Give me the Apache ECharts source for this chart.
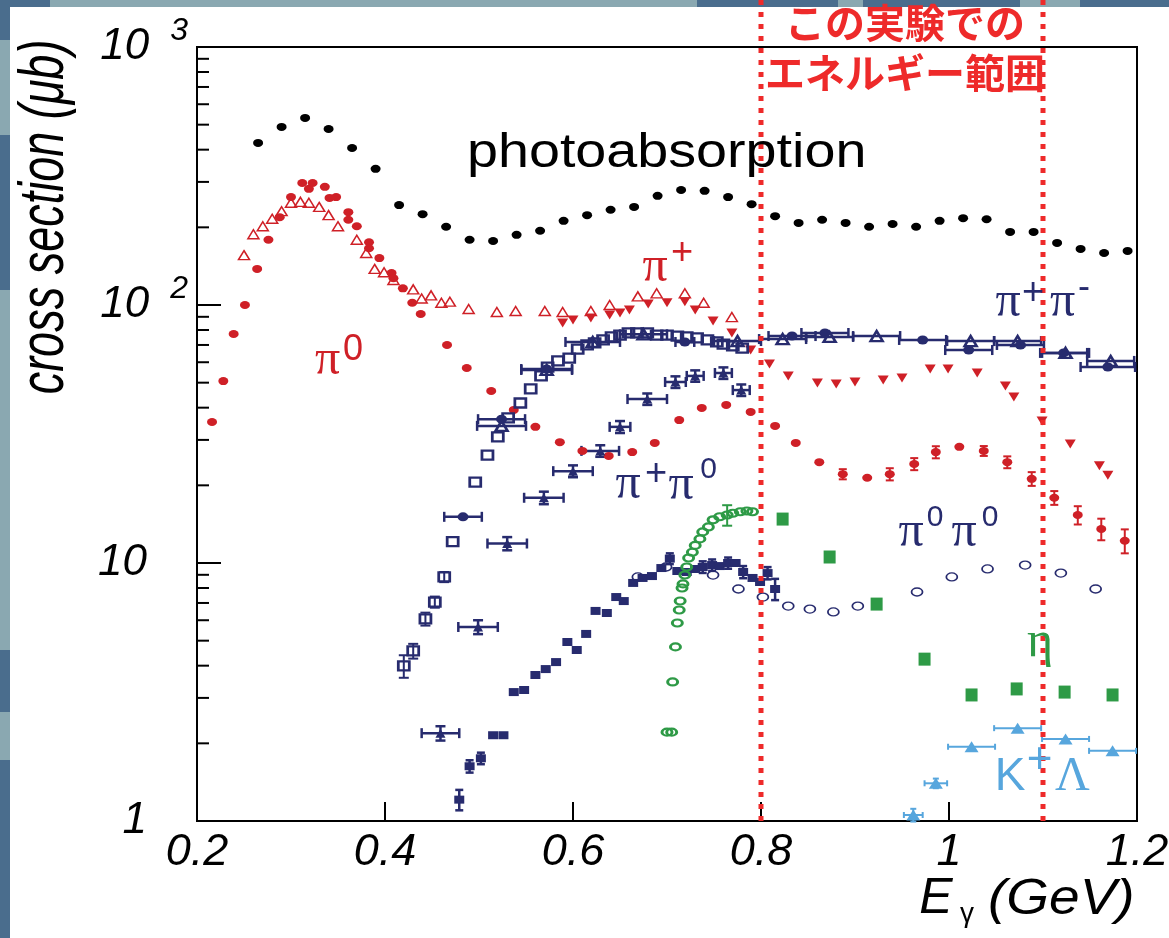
<!DOCTYPE html>
<html><head><meta charset="utf-8">
<script src="https://cdn.jsdelivr.net/npm/echarts@6/dist/echarts.min.js"></script>
<style>html,body{margin:0;padding:0;background:#fff;}#c{width:1169px;height:938px;}</style>
</head><body><div id="c"></div>
<script>
// ---------- axis ticks ----------
const xTickLabels = ['0.2','0.4','0.6','0.8','1','1.2'];
const yTickBase = ['1','10','10','10'];
const yTickExp = ['','','2','3'];
const yMinorTicks = [2,3,4,5,6,7,8,9,20,30,40,50,60,70,80,90,200,300,400,500,600,700,800,900];
const energyRange = [0.8, 1.1];

// ---------- photoabsorption ----------
const photoE = [0.265,0.29,0.315,0.34,0.365,0.39,0.415,0.44,0.465,0.49,0.515,0.54,0.565,0.59,0.615,0.64,0.665,0.69,0.715,0.74,0.765,0.79,0.815,0.84,0.865,0.89,0.915,0.94,0.965,0.99,1.015,1.04,1.065,1.09,1.115,1.14,1.165,1.19];
const photoSigma = [425,490,531,481,406,337,244,225,201,179,177,187,194,212,223,234,240,265,279,277,262,246,221,208,214,208,201,206,201,212,217,215,192,192,174,165,159,162];

// ---------- pi0 ----------
const pi0 = [[0.216,35.2],[0.228,50.7],[0.239,77.2],[0.251,100],[0.264,138],[0.276,179],[0.288,219],[0.300,262],[0.312,297],[0.319,282],[0.323,297],[0.336,287],[0.341,260],[0.348,262],[0.361,229],[0.361,214],[0.370,202],[0.383,175],[0.383,166],[0.394,152],[0.407,133],[0.409,127],[0.419,116],[0.429,102],[0.438,92.3],[0.466,70],[0.487,57],[0.513,46.4],[0.537,39.2],[0.560,33.7],[0.586,29.4],[0.610,27.2],[0.638,26],[0.663,26.9],[0.687,29.2],[0.713,35.8],[0.737,39.9],[0.763,41],[0.789,38.5],[0.815,34],[0.837,29.2],[0.862,24.6],[0.887,22.1],[0.913,21.4],[0.937,22.1],[0.963,24.2],[0.986,26.9],[1.011,28.2],[1.037,27.2],[1.062,24.6],[1.088,21.2],[1.112,17.9],[1.137,15.35],[1.162,13.55],[1.187,12.2]];
const pi0Err = [[0.887,22.1,0,1.0],[0.937,22.1,0,1.2],[0.963,24.2,0,1.3],[0.986,26.9,0,1.45],[1.037,27.2,0,1.2],[1.062,24.6,0,1.3],[1.088,21.2,0,1.3],[1.112,17.9,0,1.1],[1.137,15.35,0,1.25],[1.162,13.55,0,1.3],[1.187,12.2,0,1.3]];

// ---------- pi+ ----------
const pipOpen = [[0.250,156],[0.260,188],[0.270,202],[0.280,216],[0.290,231],[0.300,249],[0.310,251],[0.319,249],[0.330,240],[0.340,223],[0.350,202],[0.370,179],[0.380,159],[0.389,138],[0.399,134],[0.409,125],[0.430,115],[0.439,106],[0.449,109],[0.460,102],[0.469,103],[0.489,96.5],[0.519,93.9],[0.539,94.8],[0.570,94.8],[0.589,93.9],[0.619,94.8],[0.639,100],[0.669,108],[0.689,111],[0.719,111],[0.739,102],[0.769,89.8]];
const pipFilled = [[0.589,85.2],[0.600,87.5],[0.619,89.1],[0.639,91.5],[0.650,93.1],[0.660,95.7],[0.680,101],[0.700,102],[0.719,103],[0.730,95.7],[0.749,86.7],[0.769,77.9],[0.789,66.9],[0.809,59.1],[0.829,53.1],[0.860,49.9],[0.880,49.4],[0.900,50.3],[0.930,51.2],[0.950,52.1],[0.980,56.5],[0.999,56.5],[1.030,54.5],[1.060,48.5],[1.069,44],[1.099,35.5],[1.129,28.9],[1.160,23.8],[1.169,21.9]];

// ---------- pi+ pi- ----------
const ppmSq = [[0.420,3.99],[0.430,4.56],[0.443,6.07],[0.453,7.06],[0.463,8.83],[0.472,12.1],[0.496,20.6],[0.509,26.2],[0.520,30.8],[0.531,36.5],[0.544,41.7],[0.555,47.3],[0.566,53.1],[0.573,57.5],[0.584,60.7],[0.596,62.3],[0.605,67.5],[0.615,70],[0.623,71.3],[0.632,73.2],[0.641,75.2],[0.650,76.5],[0.659,77.9],[0.668,77.9],[0.679,77.9],[0.689,76.5],[0.700,76.5],[0.711,75.8],[0.721,75.2],[0.732,74.5],[0.743,73.2],[0.753,71.9],[0.760,70.6],[0.770,69.4],[0.780,68.1]];
const ppmSqErr = [[0.420,3.99,0,0.4],[0.430,4.56,0,0.3],[0.443,6.07,0,0.35],[0.453,7.06,0,0.35],[0.463,8.83,0,0.4]];
const ppmCirc = [[0.483,15.1,0.020],[0.524,36.1,0.025],[0.572,56.5,0.027],[0.719,71.9,0.010],[0.833,75.8,0.025],[0.868,77.9,0.025],[0.972,73.2,0.025],[1.021,66.9,0.025],[1.076,70.0,0.025],[1.122,65.2,0.025],[1.169,57.5,0.029]];
const ppmTri = [[0.524,34.0,0.026],[0.572,56.0,0.027],[0.621,71.9,0.029],[0.675,77.0,0.025],[0.775,72.5,0.025],[0.823,73.8,0.025],[0.873,75.2,0.025],[0.923,75.8,0.025],[1.023,72.5,0.025],[1.073,72.5,0.025],[1.124,65.2,0.025],[1.172,60.7,0.025]];

// ---------- pi+ pi0 ----------
const ppz = [[0.459,2.19,0.020,0.14],[0.499,5.65,0.021,0.35],[0.530,11.9,0.021,0.7],[0.569,17.9,0.021,1.0],[0.600,22.7,0.021,1.2],[0.629,27.2,0.020,1.4],[0.650,33.7,0.011,1.8],[0.679,43.2,0.021,2.2],[0.709,50.3,0.011,2.6],[0.730,53.1,0.009,2.7],[0.760,54.5,0.009,2.8],[0.779,46.8,0.009,2.4]];

// ---------- pi0 pi0 ----------
const pzzSq = [[0.479,1.21],[0.490,1.63],[0.502,1.75],[0.515,2.15],[0.526,2.15],[0.537,3.16],[0.548,3.22],[0.560,3.68],[0.571,3.88],[0.582,4.13],[0.594,4.94],[0.604,4.60],[0.614,5.31],[0.624,6.52],[0.636,6.40],[0.646,7.38],[0.654,7.12],[0.664,8.37],[0.674,8.75],[0.684,8.90],[0.694,9.56],[0.703,10.4],[0.711,9.31],[0.721,9.23],[0.730,9.48],[0.738,9.65],[0.748,9.82],[0.756,9.73],[0.765,10.0],[0.773,10.0],[0.781,9.23],[0.791,8.75],[0.799,8.44],[0.807,9.14],[0.815,7.93]];
const pzzSqErr = [[0.479,1.21,0,0.11],[0.490,1.63,0,0.09],[0.502,1.75,0,0.09],[0.703,10.4,0,0.5],[0.738,9.65,0,0.5],[0.748,9.82,0,0.5],[0.765,10.0,0,0.5],[0.781,9.23,0,0.5],[0.807,9.14,0,0.5],[0.815,7.93,0,0.75]];
const pzzOpen = [[0.669,8.83],[0.699,9.65],[0.749,8.98],[0.776,7.93],[0.802,7.38],[0.829,6.81],[0.852,6.63],[0.877,6.46],[0.903,6.81],[0.966,7.72],[1.003,8.83],[1.041,9.48],[1.081,9.82],[1.119,9.14],[1.156,7.93]];

// ---------- eta ----------
const etaOpen = [[0.700,2.21],[0.705,2.21],[0.706,3.46],[0.709,4.73],[0.711,5.85],[0.713,6.57],[0.714,7.12],[0.716,8.0],[0.717,8.3],[0.719,8.98],[0.721,9.65],[0.723,10.45],[0.727,11.0],[0.730,11.7],[0.735,12.4],[0.738,13.2],[0.744,13.8],[0.749,14.7],[0.756,15.1],[0.764,15.35],[0.770,15.6],[0.778,15.8],[0.785,15.9],[0.791,15.8]];
const etaErr = [[0.764,15.35,0,1.4]];
const etaSq = [[0.823,14.8],[0.873,10.55],[0.923,6.93],[0.974,4.24],[1.024,3.08],[1.072,3.25],[1.123,3.16],[1.174,3.08]];

// ---------- K+ Lambda ----------
const kLam = [[0.962,1.055,0.010,0.06],[0.986,1.40,0.012,0.06],[1.024,1.94,0.025,0],[1.073,2.29,0.025,0],[1.124,2.08,0.025,0],[1.174,1.87,0.025,0]];

const RED = '#cf2027', NAVY = '#272b6e', GREEN = '#2e9a46', LBLUE = '#57a6dd', LINE_RED = '#ee2a2a';
const SANS = 'Liberation Sans', SERIF = 'Liberation Serif';

function sc(data, symbol, size, color, open, bw, extra) {
  return Object.assign({
    type: 'scatter', data: data, symbol: symbol, symbolSize: size, silent: true, z: 5,
    itemStyle: { color: open ? 'rgba(255,255,255,0)' : color, borderColor: color, borderWidth: open ? bw : 0, opacity: 1 }
  }, extra || {});
}
function errSeries(data, color, lw, cap) {
  return {
    type: 'custom', data: data, dimensions: ['x','y','xe','ye'], encode: { x: 0, y: 1 }, silent: true, z: 4, clip: false,
    renderItem: function (params, api) {
      const x = api.value(0), y = api.value(1);
      const xe = +api.value(2) || 0, ye = +api.value(3) || 0;
      const c = api.coord([x, y]);
      const st = { stroke: color, lineWidth: lw, fill: null };
      const kids = [];
      if (xe > 0) {
        const l = api.coord([x - xe, y]), r = api.coord([x + xe, y]);
        kids.push({ type: 'line', shape: { x1: l[0], y1: c[1], x2: r[0], y2: c[1] }, style: st });
        kids.push({ type: 'line', shape: { x1: l[0], y1: c[1] - cap, x2: l[0], y2: c[1] + cap }, style: st });
        kids.push({ type: 'line', shape: { x1: r[0], y1: c[1] - cap, x2: r[0], y2: c[1] + cap }, style: st });
      }
      if (ye > 0) {
        const lo = api.coord([x, Math.max(y - ye, 0.5)]), hi = api.coord([x, y + ye]);
        kids.push({ type: 'line', shape: { x1: c[0], y1: lo[1], x2: c[0], y2: hi[1] }, style: st });
        kids.push({ type: 'line', shape: { x1: c[0] - cap, y1: lo[1], x2: c[0] + cap, y2: lo[1] }, style: st });
        kids.push({ type: 'line', shape: { x1: c[0] - cap, y1: hi[1], x2: c[0] + cap, y2: hi[1] }, style: st });
      }
      return { type: 'group', children: kids };
    }
  };
}

const series = [
  // minor ticks on the log axis
  { type: 'custom', data: yMinorTicks.map(v => [0.2, v]), silent: true, z: 3, clip: false,
    renderItem: function (p, api) { const c = api.coord([api.value(0), api.value(1)]);
      return { type: 'line', shape: { x1: c[0], y1: c[1], x2: c[0] + 12, y2: c[1] }, style: { stroke: '#000', lineWidth: 2 } }; } },
  errSeries(pi0Err, RED, 2, 4),
  errSeries(ppmSqErr, NAVY, 2, 5),
  errSeries(ppmCirc, NAVY, 2.5, 5),
  errSeries(ppmTri, NAVY, 2.5, 5),
  errSeries(ppz, NAVY, 2.5, 5),
  errSeries(pzzSqErr, NAVY, 2.5, 4),
  errSeries(etaErr, GREEN, 2, 5),
  errSeries(kLam, LBLUE, 2, 3),
  sc(photoE.map((e, i) => [e, photoSigma[i]]), 'circle', [10, 8], '#000', false),
  sc(pipOpen, 'triangle', [11, 9], RED, true, 1.5),
  sc(pipFilled, 'triangle', [11, 9], RED, false, 0, { symbolRotate: 180 }),
  sc(pi0, 'circle', [10, 8], RED, false),
  sc(ppmSq, 'rect', [11, 9], NAVY, true, 2.5),
  sc(ppmCirc, 'circle', [11, 9], NAVY, false),
  sc(ppmTri, 'triangle', [12, 10], NAVY, true, 2.5),
  sc(ppz, 'triangle', [10, 9], NAVY, false),
  sc(pzzSq, 'rect', [10, 8], NAVY, false),
  sc(pzzOpen, 'circle', [11, 8], NAVY, true, 1.5),
  sc(etaOpen, 'circle', [10, 7], GREEN, true, 2.5),
  sc(etaSq, 'rect', [12, 13], GREEN, false),
  sc(kLam, 'triangle', [14, 11], LBLUE, false),
  // energy range of the experiment (dotted red lines)
  { type: 'custom', data: energyRange.map(v => [v, 1]), silent: true, z: 10, clip: false,
    renderItem: function (p, api) { const c = api.coord([api.value(0), api.value(1)]);
      return { type: 'line', shape: { x1: c[0], y1: 0, x2: c[0], y2: c[1] }, style: { stroke: LINE_RED, lineWidth: 5, lineDash: [5, 7] } }; } }
];

// background strips
const DARK = '#4a6d8d', LIGHT = '#8aa8b1';
const topStrip = [[0,50,DARK],[50,697,LIGHT],[697,838,DARK],[838,863,LIGHT],[863,1020,DARK],[1020,1080,LIGHT],[1080,1169,DARK]];
const leftStrip = [[0,40,DARK],[40,135,LIGHT],[135,290,DARK],[290,650,LIGHT],[650,712,DARK],[712,760,LIGHT],[760,938,DARK]];
const graphics = [];
topStrip.forEach(s => graphics.push({ type: 'rect', z: -10, silent: true, shape: { x: s[0], y: 0, width: s[1] - s[0], height: 7 }, style: { fill: s[2] } }));
leftStrip.forEach(s => graphics.push({ type: 'rect', z: -10, silent: true, shape: { x: 0, y: s[0], width: 10, height: s[1] - s[0] }, style: { fill: s[2] } }));

function txt(text, x, y, size, family, color, opts) {
  opts = opts || {};
  return {
    type: 'text', x: x, y: y, z: 100, silent: true,
    rotation: opts.rotation || 0, scaleX: opts.scaleX || 1, scaleY: opts.scaleY || 1,
    style: {
      text: text, fontSize: size, fontFamily: family, fontStyle: opts.italic ? 'italic' : 'normal',
      fontWeight: opts.bold ? 'bold' : 'normal', fill: color,
      align: opts.align || 'center', textAlign: opts.align || 'center',
      verticalAlign: 'middle', textVerticalAlign: 'middle'
    }
  };
}
// annotations
graphics.push(txt('photoabsorption', 467, 154, 48, SANS, '#000', { align: 'left', scaleX: 1.16 }));
graphics.push(txt('π', 655, 268, 50, SERIF, RED), txt('+', 682, 254, 38, SANS, RED));
graphics.push(txt('π', 327.5, 361, 50, SERIF, RED), txt('0', 353, 350, 36, SANS, RED));
graphics.push(txt('π', 1008, 303, 50, SERIF, NAVY), txt('+', 1033, 294, 38, SANS, NAVY),
              txt('π', 1062.5, 303, 50, SERIF, NAVY), txt('-', 1084, 288, 36, SANS, NAVY));
graphics.push(txt('π', 628, 484.5, 50, SERIF, NAVY), txt('+', 656, 475, 38, SANS, NAVY),
              txt('π', 681, 485.5, 50, SERIF, NAVY), txt('0', 708.5, 470, 30, SANS, NAVY));
graphics.push(txt('π', 911, 533, 50, SERIF, NAVY), txt('0', 935, 518, 30, SANS, NAVY),
              txt('π', 964, 533, 50, SERIF, NAVY), txt('0', 990, 518, 30, SANS, NAVY));
graphics.push(txt('η', 1040, 643, 50, SERIF, GREEN));
graphics.push(txt('K', 1010, 777, 46, SANS, LBLUE), txt('+', 1039.5, 760.5, 44, SANS, LBLUE), txt('Λ', 1072.5, 777, 48, SERIF, LBLUE));
// axis titles
graphics.push(txt('cross section (μb)', 46, 217, 45, SANS, '#000', { italic: true, rotation: Math.PI / 2, scaleY: 1.38 }));
graphics.push(txt('E', 936, 899.5, 50, SANS, '#000', { italic: true }));
graphics.push(txt('γ', 967, 914.5, 28, SANS, '#000'));
graphics.push(txt('(GeV)', 988, 900, 50, SANS, '#000', { italic: true, align: 'left', scaleX: 1.1 }));
// Japanese note
graphics.push(txt('この実験での', 905, 23, 40, 'Noto Sans CJK JP', LINE_RED, { bold: true }));
graphics.push(txt('エネルギー範囲', 905, 73, 40, 'Noto Sans CJK JP', LINE_RED, { bold: true }));

const chart = echarts.init(document.getElementById('c'), null, { renderer: 'canvas' });
chart.setOption({
  animation: false,
  backgroundColor: '#ffffff',
  grid: { left: 197, top: 47, width: 940, height: 774, show: true, borderColor: '#000', borderWidth: 2,
          backgroundColor: 'transparent', containLabel: false, outerBoundsMode: 'none' },
  xAxis: {
    type: 'value', min: 0.2, max: 1.2, interval: 0.2,
    splitLine: { show: false },
    axisLine: { show: true, onZero: false, lineStyle: { color: '#000', width: 2 } },
    axisTick: { show: true, inside: true, length: 19, lineStyle: { color: '#000', width: 2 } },
    axisLabel: { show: true, margin: 9, color: '#000', fontFamily: SANS, fontStyle: 'italic', fontSize: 45,
      formatter: function (v) { return xTickLabels[Math.round((v - 0.2) / 0.2)]; } }
  },
  yAxis: {
    type: 'log', logBase: 10, min: 1, max: 1000,
    splitLine: { show: false },
    axisLine: { show: true, lineStyle: { color: '#000', width: 2 } },
    axisTick: { show: true, inside: true, length: 24, lineStyle: { color: '#000', width: 2 } },
    axisLabel: { show: true, margin: 9, color: '#000',
      formatter: function (v) {
        const e = Math.round(Math.log10(v));
        return yTickExp[e] ? '{n|' + yTickBase[e] + '}{s|' + yTickExp[e] + '}' : '{m|' + yTickBase[e] + '}';
      },
      rich: {
        n: { fontFamily: SANS, fontStyle: 'italic', fontSize: 44, lineHeight: 64, color: '#000' },
        m: { fontFamily: SANS, fontStyle: 'italic', fontSize: 44, lineHeight: 64, color: '#000', padding: [0, 41, 0, 0] },
        s: { fontFamily: SANS, fontStyle: 'italic', fontSize: 32, lineHeight: 30, verticalAlign: 'top', padding: [0, 0, 0, 21], color: '#000' }
      }
    }
  },
  graphic: { elements: graphics },
  series: series
});
</script></body></html>
